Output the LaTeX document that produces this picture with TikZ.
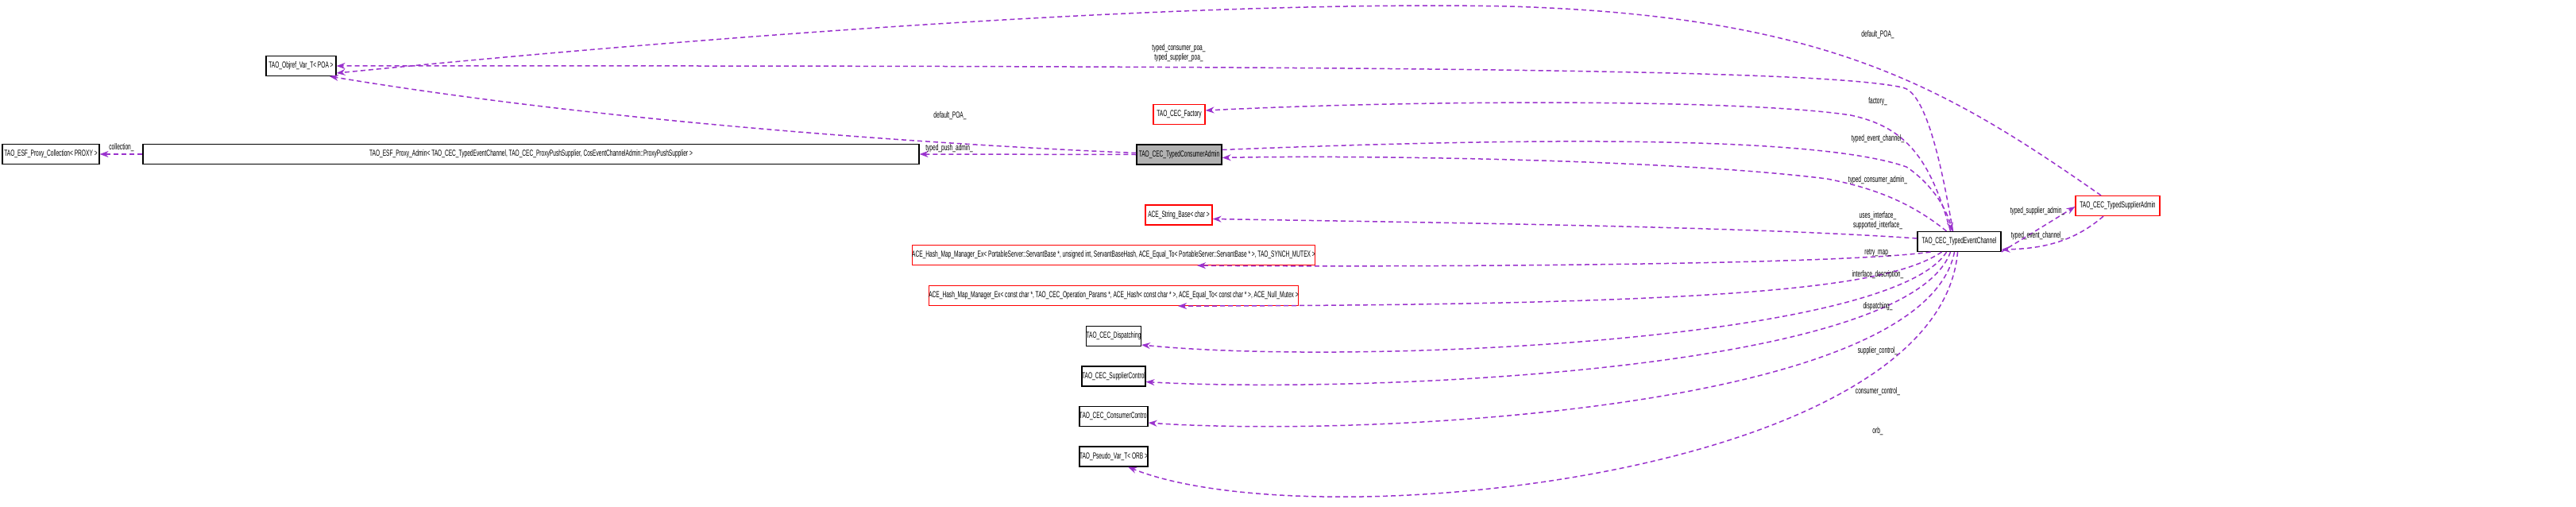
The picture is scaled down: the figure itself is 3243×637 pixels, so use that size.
\documentclass[tikz,border=0pt]{standalone}
\usepackage{fontspec}
\setmainfont{Liberation Sans}
\usetikzlibrary{arrows.meta}
\definecolor{edge}{HTML}{9A32CD}
\newcommand{\nt}[1]{\scalebox{0.6}[1]{#1}}
\tikzset{
 cls/.style={draw=black, line width=1.2pt, fill=white, inner sep=0pt, minimum height=25pt, font=\fontsize{11}{12}\selectfont},
 redcls/.style={cls, draw=red},
 curcls/.style={cls, fill=gray!60},
 rel/.style={draw=edge, line width=1.5pt, dash pattern=on 6pt off 4pt, -{Stealth[length=11pt,width=8pt]}},
 lbl/.style={font=\fontsize{11}{12}\selectfont, inner sep=0pt, align=center}
}
\begin{document}
\begin{tikzpicture}[x=1pt,y=-1pt]
\useasboundingbox (0,0) rectangle (3243,637);
\node[cls, minimum width=88pt] (obj) at (379,83) {\nt{TAO\_Objref\_Var\_T< POA >}};
\node[cls, minimum width=122pt] (coll) at (64,194) {\nt{TAO\_ESF\_Proxy\_Collection< PROXY >}};
\node[cls, minimum width=977pt] (esf) at (668.5,194) {\nt{TAO\_ESF\_Proxy\_Admin< TAO\_CEC\_TypedEventChannel, TAO\_CEC\_ProxyPushSupplier, CosEventChannelAdmin::ProxyPushSupplier >}};
\node[curcls, minimum width=107pt] (tca) at (1484.5,194.5) {\nt{TAO\_CEC\_TypedConsumerAdmin}};
\node[redcls, minimum width=65pt] (fac) at (1484.5,144) {\nt{TAO\_CEC\_Factory}};
\node[redcls, minimum width=84pt] (str) at (1484,270.5) {\nt{ACE\_String\_Base< char >}};
\node[redcls, minimum width=388pt] (hm1) at (1402,321) {\nt{ACE\_Hash\_Map\_Manager\_Ex< PortableServer::ServantBase *, unsigned int, ServantBaseHash, ACE\_Equal\_To< PortableServer::ServantBase * >, TAO\_SYNCH\_MUTEX >}};
\node[redcls, minimum width=358pt] (hm2) at (1402,372) {\nt{ACE\_Hash\_Map\_Manager\_Ex< const char *, TAO\_CEC\_Operation\_Params *, ACE\_Hash< const char * >, ACE\_Equal\_To< const char * >, ACE\_Null\_Mutex >}};
\node[cls, minimum width=60pt] (dis) at (1402,423) {\nt{TAO\_CEC\_Dispatching}};
\node[cls, minimum width=68pt] (sc) at (1402,473.5) {\nt{TAO\_CEC\_SupplierControl}};
\node[cls, minimum width=72pt] (cc) at (1402,524) {\nt{TAO\_CEC\_ConsumerControl}};
\node[cls, minimum width=72pt] (pv) at (1402,574.5) {\nt{TAO\_Pseudo\_Var\_T< ORB >}};
\node[cls, minimum width=105pt] (tec) at (2466.5,304) {\nt{TAO\_CEC\_TypedEventChannel}};
\node[redcls, minimum width=106pt] (tsa) at (2666,259) {\nt{TAO\_CEC\_TypedSupplierAdmin}};

\draw[rel] ([xshift=-21pt]tsa.north) .. controls (2450,110) and (2300,20) .. (1900,8) .. controls (1500,0) and (900,45) .. ([yshift=-9pt]obj.east);
\draw[rel] ([xshift=-8pt]tec.north) .. controls (2440,180) and (2420,115) .. (2395,110) .. controls (2300,90) and (1900,82) .. (obj.east);
\draw[rel] ([yshift=2pt]tca.west) .. controls (1250,185) and (800,160) .. ([xshift=36pt]obj.south);
\draw[rel] (tca.west) -- (esf.east);
\draw[rel] (esf.west) -- (coll.east);
\draw[rel] ([xshift=-11pt]tec.north) .. controls (2430,200) and (2400,160) .. (2330,145) .. controls (2200,125) and (1800,125) .. ([yshift=5pt]fac.east);
\draw[rel] ([yshift=6pt]tca.east) .. controls (2000,170) and (2300,175) .. (2400,210) .. controls (2430,230) and (2450,260) .. ([xshift=-9pt]tec.north);
\draw[rel] ([xshift=-16pt]tec.north) .. controls (2400,250) and (2350,235) .. (2300,225) .. controls (2100,200) and (1700,195) .. ([yshift=-4pt]tca.east);
\draw[rel] ([yshift=4pt]tec.west) .. controls (2200,285) and (1800,280) .. ([yshift=-5pt]str.east);
\draw[rel] ([xshift=-36pt]tec.south) .. controls (2300,335) and (1700,336) .. ([xshift=105pt]hm1.south);
\draw[rel] ([xshift=-22pt]tec.south) .. controls (2380,360) and (2200,384) .. ([xshift=81pt]hm2.south);
\draw[rel] ([xshift=-16pt]tec.south) .. controls (2380,430) and (1700,460) .. ([yshift=-11pt]dis.east);
\draw[rel] ([xshift=-11pt]tec.south) .. controls (2400,470) and (1700,495) .. ([yshift=-7pt]sc.east);
\draw[rel] ([xshift=-6pt]tec.south) .. controls (2420,520) and (1700,550) .. ([yshift=-8pt]cc.east);
\draw[rel] ([xshift=-2pt]tec.south) .. controls (2440,600) and (1650,680) .. ([xshift=18pt]pv.south);
\draw[rel] ([yshift=-13pt]tec.east) -- ([yshift=-1pt]tsa.west);
\draw[rel] ([xshift=-18pt]tsa.south) .. controls (2610,305) and (2570,313) .. ([yshift=-10pt]tec.east);

\node[lbl] (l1) at (2364,44) {\nt{default\_POA\_}};
\node[lbl] (l2) at (1484,67) {\nt{typed\_consumer\_poa\_}\\\nt{typed\_supplier\_poa\_}};
\node[lbl] (l3) at (1196,146) {\nt{default\_POA\_}};
\node[lbl] (l4) at (1195,187) {\nt{typed\_push\_admin\_}};
\node[lbl] (l5) at (153,186) {\nt{collection\_}};
\node[lbl] (l6) at (2364,128) {\nt{factory\_}};
\node[lbl] (l7) at (2364,175) {\nt{typed\_event\_channel\_}};
\node[lbl] (l8) at (2364,227) {\nt{typed\_consumer\_admin\_}};
\node[lbl] (l9) at (2364,278) {\nt{uses\_interface\_}\\\nt{supported\_interface\_}};
\node[lbl] (l10) at (2364,318) {\nt{retry\_map\_}};
\node[lbl] (l11) at (2364,346) {\nt{interface\_description\_}};
\node[lbl] (l12) at (2364,386) {\nt{dispatching\_}};
\node[lbl] (l13) at (2364,442) {\nt{supplier\_control\_}};
\node[lbl] (l14) at (2364,493) {\nt{consumer\_control\_}};
\node[lbl] (l15) at (2364,543) {\nt{orb\_}};
\node[lbl] (l16) at (2565,266) {\nt{typed\_supplier\_admin\_}};
\node[lbl] (l17) at (2565,297) {\nt{typed\_event\_channel\_}};
\end{tikzpicture}
\end{document}
